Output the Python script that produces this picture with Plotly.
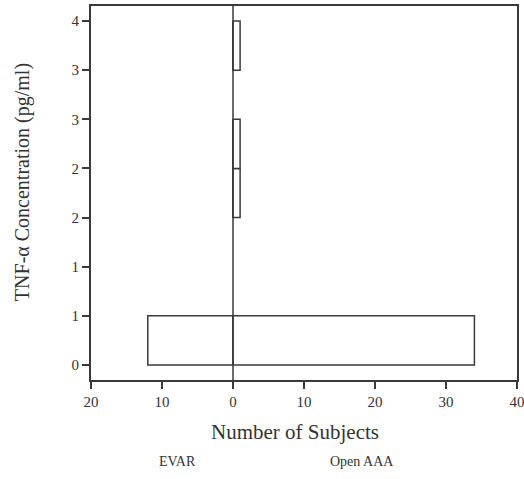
import plotly.graph_objects as go

# Histogram bins of TNF-alpha concentration (pg/ml), bin width 0.5
bin_centers = [0.25, 1.75, 2.25, 3.25]
evar_counts = [12, 0, 0, 0]
open_counts = [34, 1, 1, 1]

y_tick_vals = [0, 0.5, 1.0, 1.5, 2.0, 2.5, 3.0, 3.5]
y_tick_text = ["0", "1", "1", "2", "2", "3", "3", "4"]
x_tick_vals = [-20, -10, 0, 10, 20, 30, 40]
x_tick_text = ["20", "10", "0", "10", "20", "30", "40"]

line_col = "#3a3a3a"
font_fam = "Liberation Serif"

fig = go.Figure()
fig.add_trace(go.Bar(
    y=bin_centers, x=[-c for c in evar_counts], base=0, orientation="h",
    width=0.5, marker=dict(color="white", line=dict(color=line_col, width=1.5)),
    name="EVAR", showlegend=False,
))
fig.add_trace(go.Bar(
    y=bin_centers, x=open_counts, base=0, orientation="h",
    width=0.5, marker=dict(color="white", line=dict(color=line_col, width=1.5)),
    name="Open AAA", showlegend=False,
))

# Divider between the two groups
fig.add_shape(type="line", x0=0, x1=0, y0=0, y1=1, xref="x", yref="paper",
              line=dict(color=line_col, width=1.5))

fig.update_layout(
    width=524, height=479,
    margin=dict(l=91, r=7, t=6, b=99),
    paper_bgcolor="white", plot_bgcolor="white",
    barmode="overlay",
    font=dict(family=font_fam, color="#333333", size=14),
    xaxis=dict(range=[-20, 40], tickvals=x_tick_vals, ticktext=x_tick_text,
               showgrid=False, zeroline=False, showline=True, mirror=True,
               linecolor=line_col, linewidth=2, ticks="outside", ticklen=7,
               tickcolor=line_col, tickwidth=1.5, tickfont=dict(size=15),
               automargin=False, ticklabeloverflow="allow"),
    yaxis=dict(range=[-0.153, 3.653], tickvals=y_tick_vals, ticktext=y_tick_text,
               showgrid=False, zeroline=False, showline=True, mirror=True,
               linecolor=line_col, linewidth=2, ticks="outside", ticklen=7,
               tickcolor=line_col, tickwidth=1.5, tickfont=dict(size=15),
               automargin=False, ticklabeloverflow="allow"),
    annotations=[
        dict(text="Number of Subjects", x=0.479, y=-0.139, xref="paper", yref="paper",
             showarrow=False, font=dict(size=21), xanchor="center", yanchor="middle"),
        dict(text="TNF-α Concentration (pg/ml)", x=-0.162, y=0.529, xref="paper",
             yref="paper", showarrow=False, textangle=-90, font=dict(size=20),
             xanchor="center", yanchor="middle"),
        dict(text="EVAR", x=0.204, y=-0.219, xref="paper", yref="paper",
             showarrow=False, font=dict(size=14), xanchor="center", yanchor="middle"),
        dict(text="Open AAA", x=0.636, y=-0.219, xref="paper", yref="paper",
             showarrow=False, font=dict(size=14), xanchor="center", yanchor="middle"),
    ],
)

fig.write_html("out.html")
